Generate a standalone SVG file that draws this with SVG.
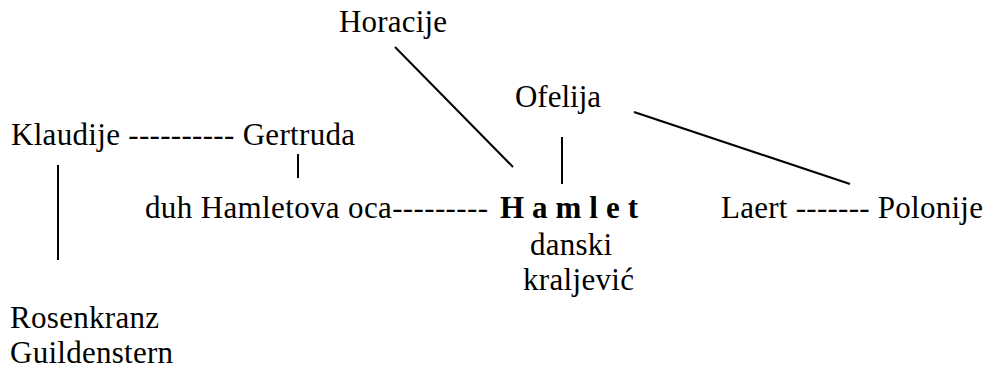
<svg xmlns="http://www.w3.org/2000/svg" width="987" height="369" viewBox="0 0 987 369">
<style>
text{font-family:'Liberation Serif','Times New Roman',Tinos,'Noto Serif','DejaVu Serif',serif;font-size:31px;fill:#000}
.b{font-weight:bold}
line{stroke:#000;stroke-width:2}
</style>
<rect width="987" height="369" fill="#fff"/>
<g id="connectors">
<line x1="395" y1="47" x2="513" y2="167"/>
<line x1="562" y1="137" x2="562" y2="184"/>
<line x1="634" y1="112" x2="850" y2="184"/>
<line x1="298" y1="154" x2="298" y2="178"/>
<line x1="58" y1="165" x2="58" y2="260"/>
</g>
<g id="horacije"><text x="339" y="32" textLength="108">Horacije</text></g>
<g id="ofelija"><text x="515" y="107" textLength="86">Ofelija</text></g>
<g id="klaudije-gertruda"><text x="11" y="145" textLength="344">Klaudije ---------- Gertruda</text></g>
<g id="duh"><text x="145" y="218" textLength="343">duh Hamletova oca---------</text></g>
<g id="hamlet"><text x="500" y="218" class="b" textLength="138">H a m l e t</text>
<text x="530" y="255" textLength="82">danski</text>
<text x="523" y="290" textLength="111">kraljević</text></g>
<g id="laert-polonije"><text x="721" y="218" textLength="262">Laert ------- Polonije</text></g>
<g id="rosenkranz"><text x="10" y="328" textLength="149">Rosenkranz</text><text x="10" y="363" textLength="163">Guildenstern</text></g>
</svg>
